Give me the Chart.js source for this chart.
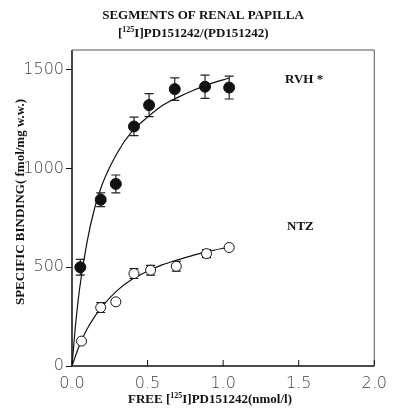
<!DOCTYPE html>
<html>
<head>
<meta charset="utf-8">
<script src="https://cdn.jsdelivr.net/npm/chart.js@4.4.1/dist/chart.umd.min.js"></script>
<style>
  html, body { margin: 0; padding: 0; background: #fff; }
  #wrap { width: 395px; height: 408px; position: relative; }
</style>
</head>
<body>
<div id="wrap"><canvas id="grafico"></canvas></div>
<script>
// measured points (x in nmol/l, y in fmol/mg w.w.)
const rvhX = [0.055, 0.19, 0.29, 0.41, 0.51, 0.68, 0.88, 1.04];
const rvhY = [500, 842, 922, 1213, 1321, 1402, 1414, 1410];
const rvhErr = [40, 35, 45, 47, 58, 57, 59, 58];

const ntzX = [0.063, 0.19, 0.29, 0.41, 0.52, 0.69, 0.89, 1.04];
const ntzY = [126, 296, 325, 468, 485, 505, 569, 600];
const ntzErr = [0, 25, 0, 25, 25, 25, 20, 0];

// fitted curves
const rvhFitX = [0, 0.02, 0.05, 0.1, 0.15, 0.2, 0.3, 0.4, 0.5, 0.6, 0.7, 0.8, 0.9, 1.04];
const rvhFitY = [0, 180, 390, 630, 800, 920, 1080, 1190, 1260, 1320, 1360, 1395, 1425, 1458];
const ntzFitX = [0, 0.05, 0.1, 0.15, 0.2, 0.3, 0.4, 0.5, 0.6, 0.7, 0.8, 0.9, 1.04];
const ntzFitY = [0, 106, 187, 250, 302, 383, 440, 480, 513, 537, 560, 580, 602];

const xTicks = [0, 0.5, 1.0, 1.5, 2.0];
const yTicks = [0, 500, 1000, 1500];

function pares(xs, ys) {
    return xs.map(function (x, i) { return { x: x, y: ys[i] }; });
}

const serifBold = 'bold 13px "Liberation Serif", "Times New Roman", serif';

const extras = {
    id: 'extras',
    beforeDatasetsDraw: function (chart) {
        const ctx = chart.ctx;
        const sx = chart.scales.x;
        const sy = chart.scales.y;
        ctx.save();
        ctx.strokeStyle = '#222';
        ctx.lineWidth = 1.2;
        [[rvhX, rvhY, rvhErr], [ntzX, ntzY, ntzErr]].forEach(function (s) {
            s[0].forEach(function (x, i) {
                if (!s[2][i]) {
                    return;
                }
                const px = sx.getPixelForValue(x);
                const top = sy.getPixelForValue(s[1][i] + s[2][i]);
                const bot = sy.getPixelForValue(s[1][i] - s[2][i]);
                ctx.beginPath();
                ctx.moveTo(px, top); ctx.lineTo(px, bot);
                ctx.moveTo(px - 4.5, top); ctx.lineTo(px + 4.5, top);
                ctx.moveTo(px - 4.5, bot); ctx.lineTo(px + 4.5, bot);
                ctx.stroke();
            });
        });
        ctx.restore();
    },
    afterDraw: function (chart) {
        const ctx = chart.ctx;
        const a = chart.chartArea;
        const sx = chart.scales.x;
        ctx.save();

        // frame
        ctx.strokeStyle = '#111';
        ctx.lineWidth = 1.5;
        ctx.beginPath();
        ctx.moveTo(a.left, a.top); ctx.lineTo(a.left, a.bottom); ctx.lineTo(a.right, a.bottom);
        ctx.stroke();
        ctx.strokeStyle = '#555';
        ctx.lineWidth = 1;
        ctx.beginPath();
        ctx.moveTo(a.left, a.top); ctx.lineTo(a.right, a.top); ctx.lineTo(a.right, a.bottom);
        ctx.stroke();

        // x ticks point inward
        ctx.strokeStyle = '#111';
        ctx.beginPath();
        xTicks.forEach(function (v) {
            const px = sx.getPixelForValue(v);
            ctx.moveTo(px, a.bottom); ctx.lineTo(px, a.bottom - 6);
        });
        ctx.stroke();

        ctx.fillStyle = '#111';
        ctx.textBaseline = 'alphabetic';

        // title
        ctx.font = serifBold;
        ctx.textAlign = 'center';
        ctx.fillText('SEGMENTS OF RENAL PAPILLA', 203, 19);
        textoIsotopo(ctx, 118, 37, '[', ']PD151242/(PD151242)');

        // series labels
        ctx.textAlign = 'left';
        ctx.font = 'bold 13px "Liberation Serif", serif';
        ctx.fillText('RVH *', 285, 83);
        ctx.fillText('NTZ', 287, 230);

        // x title
        textoIsotopo(ctx, 128, 403, 'FREE [', ']PD151242(nmol/l)');

        // y title
        ctx.save();
        ctx.translate(24, 202);
        ctx.rotate(-Math.PI / 2);
        ctx.textAlign = 'center';
        ctx.font = serifBold;
        ctx.fillText('SPECIFIC BINDING( fmol/mg w.w.)', 0, 0);
        ctx.restore();

        ctx.restore();
    }
};

function textoIsotopo(ctx, x, y, antes, depois) {
    ctx.textAlign = 'left';
    ctx.font = serifBold;
    ctx.fillText(antes, x, y);
    x += ctx.measureText(antes).width;
    ctx.font = 'bold 8px "Liberation Serif", serif';
    ctx.fillText('125', x, y - 5);
    x += ctx.measureText('125').width;
    ctx.font = serifBold;
    ctx.fillText('I' + depois, x, y);
}

new Chart(document.getElementById('grafico'), {
    type: 'scatter',
    data: {
        datasets: [{
            label: 'RVH',
            data: pares(rvhX, rvhY),
            pointRadius: 5.5,
            pointBackgroundColor: '#111',
            pointBorderColor: '#111',
            showLine: false
        }, {
            label: 'NTZ',
            data: pares(ntzX, ntzY),
            pointRadius: 5,
            pointBackgroundColor: '#fff',
            pointBorderColor: '#111',
            pointBorderWidth: 1,
            showLine: false
        }, {
            label: 'RVH fit',
            data: pares(rvhFitX, rvhFitY),
            showLine: true,
            pointRadius: 0,
            borderColor: '#111',
            borderWidth: 1.2,
            cubicInterpolationMode: 'monotone'
        }, {
            label: 'NTZ fit',
            data: pares(ntzFitX, ntzFitY),
            showLine: true,
            pointRadius: 0,
            borderColor: '#111',
            borderWidth: 1.2,
            cubicInterpolationMode: 'monotone'
        }]
    },
    options: {
        responsive: true,
        maintainAspectRatio: false,
        animation: false,
        layout: { padding: { left: 0, top: 50, right: 13, bottom: 0 } },
        plugins: {
            legend: { display: false },
            tooltip: { enabled: false }
        },
        scales: {
            x: {
                type: 'linear',
                min: 0,
                max: 2,
                afterBuildTicks: function (s) { s.ticks = xTicks.map(function (v) { return { value: v }; }); },
                afterFit: function (s) { s.height = 42; },
                grid: { display: false, drawTicks: false },
                border: { display: false },
                ticks: {
                    padding: 8,
                    color: '#444',
                    font: { family: '"DejaVu Sans"', size: 16, weight: 200 },
                    callback: function (v) { return Number(v).toFixed(1); }
                }
            },
            y: {
                min: 0,
                max: 1600,
                afterBuildTicks: function (s) { s.ticks = yTicks.map(function (v) { return { value: v }; }); },
                afterFit: function (s) { s.width = 72; },
                grid: { drawOnChartArea: false, tickLength: 6, color: '#111' },
                border: { display: false },
                ticks: {
                    padding: 2,
                    color: '#444',
                    font: { family: '"DejaVu Sans"', size: 16, weight: 200 },
                    callback: function (v) { return String(v); }
                }
            }
        }
    },
    plugins: [extras]
});
</script>
</body>
</html>
